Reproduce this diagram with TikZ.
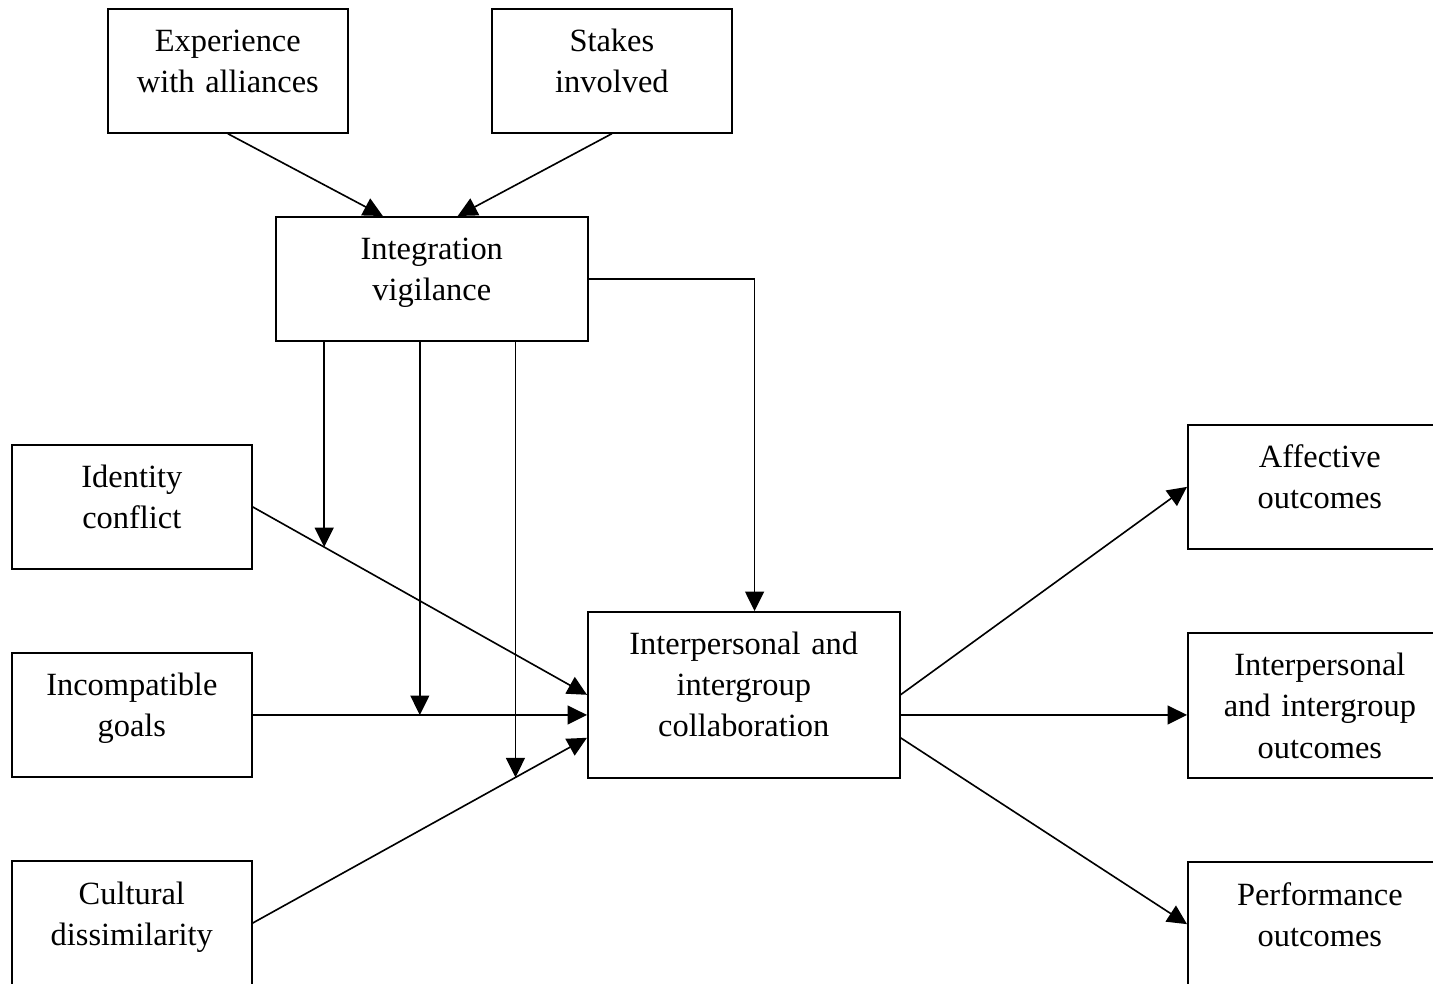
\documentclass[tikz,border=0pt]{standalone}
\usepackage{fontspec}
\setmainfont{Liberation Serif}
\usetikzlibrary{arrows.meta, positioning}

\begin{document}
\begin{tikzpicture}[
	x=0.37pt, y=-0.37pt,
	node distance=30.5pt and 52.7pt,
	box/.style = {draw, line width=0.6pt, inner sep=0pt, text width=88.8pt, align=center,
	              text height=15.9pt, text depth=30pt, font=\fontsize{12}{15.2}\selectfont},
	wide/.style = {text width=115.4pt},
	outc/.style = {text width=97.7pt},
	tall/.style = {text depth=37.8pt},
	taller/.style = {text depth=45.5pt},
	arr/.style = {line width=0.6pt, -{Triangle[length=7.2pt, width=7pt]}},
	sx-/.style = {xshift=-18.1pt},
	sx+/.style = {xshift=9.6pt},
	sy-/.style = {yshift=-15.9pt}
     ]
		\useasboundingbox (0,0) rectangle (1433,983);
%
		\node[box, anchor=north west] (exp) at (107,8) {Experience\\with alliances};
		\node[box, right=of exp] (stakes) {Stakes\\involved};
		\node[box, wide, anchor=north west] (vig) at (275,216) {Integration\\vigilance};
%
		\node[box, anchor=north west] (id) at (11,444) {Identity\\conflict};
		\node[box, below=of id] (inc) {Incompatible\\goals};
		\node[box, below=of inc] (cult) {Cultural\\dissimilarity};
%
		\node[box, wide, taller, anchor=north west] (collab) at (587,611) {Interpersonal and\\intergroup\\collaboration};
%
		\node[box, outc, anchor=north west] (aff) at (1187,424) {Affective\\outcomes};
		\node[box, outc, tall, below=of aff] (ipo) {Interpersonal\\and intergroup\\outcomes};
		\node[box, outc, below=of ipo] (perf) {Performance\\outcomes};
%
		\draw[arr] (exp.south) -- ([sx-] vig.north);
		\draw[arr] (stakes.south) -- ([sx+] vig.north);
		\draw[arr] (vig.east) -| ([xshift=4pt] collab.north);
%
		\draw[arr] (id.east) -- coordinate[pos=0.214] (m1) (collab.west);
		\draw[arr] (inc.east) -- coordinate[pos=0.5] (m2) (collab.west |- inc.east);
		\draw[arr] (cult.east) -- coordinate[pos=0.786] (m3) ([sy-] collab.west);
%
		\draw[arr] (vig.south -| m1) -- (m1);
		\draw[arr] (vig.south -| m2) -- (m2);
		\draw[arr] (vig.south -| m3) -- (m3);
%
		\draw[arr] (collab.east) -- (aff.west);
		\draw[arr] (collab.east |- inc.east) -- (ipo.west |- inc.east);
		\draw[arr] ([sy-] collab.east) -- (perf.west);
\end{tikzpicture}
\end{document}
